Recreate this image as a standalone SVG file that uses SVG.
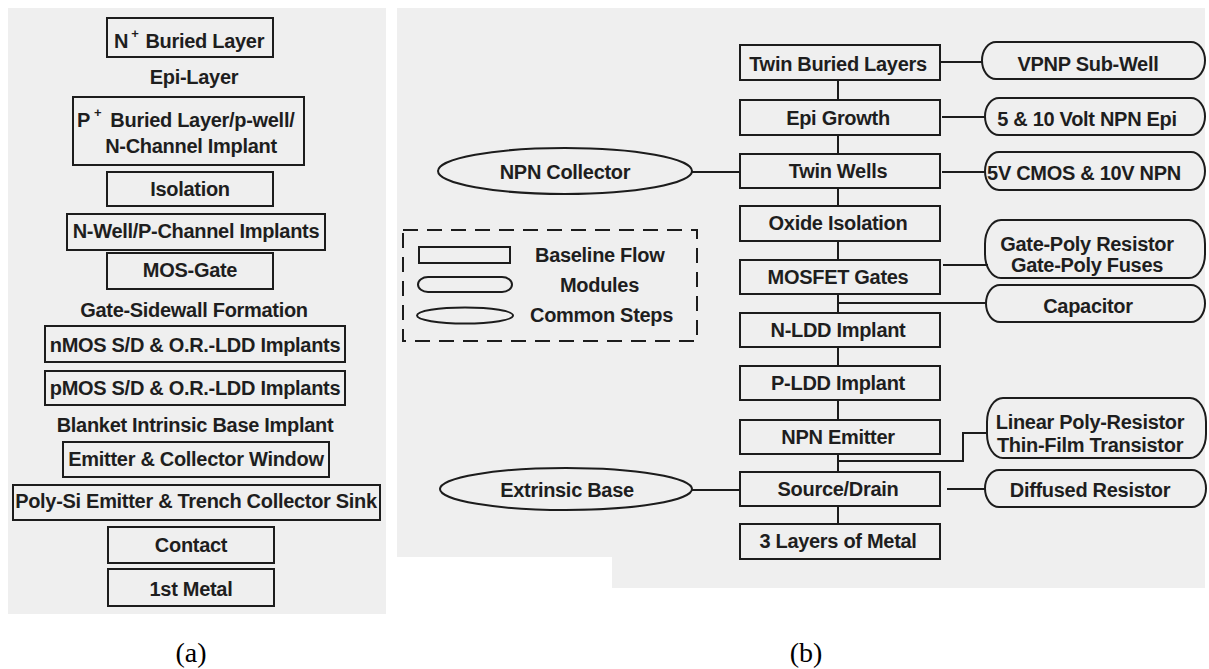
<svg xmlns="http://www.w3.org/2000/svg" width="1209" height="669" viewBox="0 0 1209 669">
<style>
.bg{fill:#efefef;stroke:none}
.b{fill:none;stroke:#1c1c1c;stroke-width:2}
.t{font-family:"Liberation Sans",Arial,sans-serif;font-weight:bold;font-size:20px;letter-spacing:-0.3px;fill:#1e1e1e}
.m{text-anchor:middle}
.c{fill:none;stroke:#1c1c1c;stroke-width:2}
.cap{font-family:"Liberation Serif","Times New Roman",serif;font-size:28px;fill:#000;text-anchor:middle}
</style>
<rect class="bg" x="8" y="8" width="378" height="606"/>
<polygon class="bg" points="397,8 1205,8 1205,588 612,588 612,557 397,557"/>

<g id="panel-a">
<g id="a1"><rect class="b" x="107" y="18" width="166" height="39"/><text class="t" x="114" y="48">N<tspan dx="3" dy="-10" font-size="13">+</tspan><tspan dx="7" dy="10">Buried Layer</tspan></text></g>
<g id="a2"><text class="t m" x="194" y="84">Epi-Layer</text></g>
<g id="a3"><rect class="b" x="73" y="97" width="231" height="68"/><text class="t" x="77" y="127">P<tspan dx="4" dy="-10" font-size="13">+</tspan><tspan dx="9" dy="10">Buried Layer/p-well/</tspan></text><text class="t m" x="191" y="153">N-Channel Implant</text></g>
<g id="a4"><rect class="b" x="107" y="172" width="166" height="34"/><text class="t m" x="190" y="196">Isolation</text></g>
<g id="a5"><rect class="b" x="67" y="214" width="258" height="36"/><text class="t m" x="196" y="238">N-Well/P-Channel Implants</text></g>
<g id="a6"><rect class="b" x="107" y="253" width="166" height="36"/><text class="t m" x="190" y="277">MOS-Gate</text></g>
<g id="a7"><text class="t m" x="194" y="317">Gate-Sidewall Formation</text></g>
<g id="a8"><rect class="b" x="45" y="326" width="300" height="36"/><text class="t m" x="195" y="352">nMOS S/D &amp; O.R.-LDD Implants</text></g>
<g id="a9"><rect class="b" x="45" y="371" width="300" height="34"/><text class="t m" x="195" y="395">pMOS S/D &amp; O.R.-LDD Implants</text></g>
<g id="a10"><text class="t m" x="195" y="432">Blanket Intrinsic Base Implant</text></g>
<g id="a11"><rect class="b" x="63" y="442" width="266" height="35"/><text class="t m" x="196" y="466">Emitter &amp; Collector Window</text></g>
<g id="a12"><rect class="b" x="13" y="485" width="367" height="35"/><text class="t m" x="196" y="508">Poly-Si Emitter &amp; Trench Collector Sink</text></g>
<g id="a13"><rect class="b" x="108" y="527" width="166" height="36"/><text class="t m" x="191" y="552">Contact</text></g>
<g id="a14"><rect class="b" x="108" y="569" width="166" height="37"/><text class="t m" x="191" y="596">1st Metal</text></g>
</g>

<g id="connectors">
<path class="c" d="M838,80V100M838,135V154M838,188V206M838,241V260M838,294V313M838,347V366M838,400V420M838,454V472M838,506V524"/>
<path class="c" d="M940,62H982M942,117H985M942,172H985M692,172H740M943,265H988M838,303H986M838,461H963V433H988M947,489H985M692,490H740"/>
</g>

<g id="b-main">
<g id="b1"><rect class="b" x="740" y="45" width="200" height="35"/><text class="t m" x="838" y="71">Twin Buried Layers</text></g>
<g id="b2"><rect class="b" x="740" y="100" width="200" height="35"/><text class="t m" x="838" y="125">Epi Growth</text></g>
<g id="b3"><rect class="b" x="740" y="154" width="200" height="34"/><text class="t m" x="838" y="178">Twin Wells</text></g>
<g id="b4"><rect class="b" x="740" y="206" width="200" height="35"/><text class="t m" x="838" y="230">Oxide Isolation</text></g>
<g id="b5"><rect class="b" x="740" y="260" width="200" height="34"/><text class="t m" x="838" y="284">MOSFET Gates</text></g>
<g id="b6"><rect class="b" x="740" y="313" width="200" height="34"/><text class="t m" x="838" y="337">N-LDD Implant</text></g>
<g id="b7"><rect class="b" x="740" y="366" width="200" height="34"/><text class="t m" x="838" y="390">P-LDD Implant</text></g>
<g id="b8"><rect class="b" x="740" y="420" width="200" height="34"/><text class="t m" x="838" y="444">NPN Emitter</text></g>
<g id="b9"><rect class="b" x="740" y="472" width="200" height="34"/><text class="t m" x="838" y="496">Source/Drain</text></g>
<g id="b10"><rect class="b" x="740" y="524" width="200" height="35"/><text class="t m" x="838" y="548">3 Layers of Metal</text></g>
</g>

<g id="b-modules">
<g id="m1"><rect class="b" x="982" y="42" width="223" height="37" rx="14" ry="18.5"/><text class="t m" x="1088" y="71">VPNP Sub-Well</text></g>
<g id="m2"><rect class="b" x="985" y="98" width="220" height="37" rx="14" ry="18.5"/><text class="t m" x="1087" y="126">5 &amp; 10 Volt NPN Epi</text></g>
<g id="m3"><rect class="b" x="985" y="152" width="220" height="38" rx="14" ry="19"/><text class="t m" x="1084" y="180">5V CMOS &amp; 10V NPN</text></g>
<g id="m4"><rect class="b" x="985" y="220" width="220" height="58" rx="16" ry="24"/><text class="t m" x="1087" y="251">Gate-Poly Resistor</text><text class="t m" x="1087" y="272">Gate-Poly Fuses</text></g>
<g id="m5"><rect class="b" x="986" y="285" width="219" height="37" rx="14" ry="18.5"/><text class="t m" x="1088" y="313">Capacitor</text></g>
<g id="m6"><rect class="b" x="987" y="398" width="219" height="60" rx="16" ry="24"/><text class="t m" x="1090" y="429">Linear Poly-Resistor</text><text class="t m" x="1090" y="452">Thin-Film Transistor</text></g>
<g id="m7"><rect class="b" x="985" y="470" width="221" height="37" rx="14" ry="18.5"/><text class="t m" x="1090" y="497">Diffused Resistor</text></g>
</g>

<g id="b-common">
<g id="e1"><ellipse class="b" cx="565" cy="171" rx="127" ry="23"/><text class="t m" x="565" y="179">NPN Collector</text></g>
<g id="e2"><ellipse class="b" cx="566" cy="489" rx="126" ry="21"/><text class="t m" x="567" y="497">Extrinsic Base</text></g>
</g>

<g id="legend">
<rect class="b" x="403" y="230" width="294" height="111" stroke-dasharray="15 9"/>
<rect class="b" x="419" y="247" width="91" height="16"/>
<text class="t" x="535" y="262">Baseline Flow</text>
<rect class="b" x="418" y="277" width="94" height="15" rx="10" ry="7.5"/>
<text class="t" x="560" y="292">Modules</text>
<ellipse class="b" cx="465" cy="315.5" rx="48" ry="8"/>
<text class="t" x="530" y="322">Common Steps</text>
</g>

<text class="cap" x="191" y="662">(a)</text>
<text class="cap" x="806" y="662">(b)</text>
</svg>
